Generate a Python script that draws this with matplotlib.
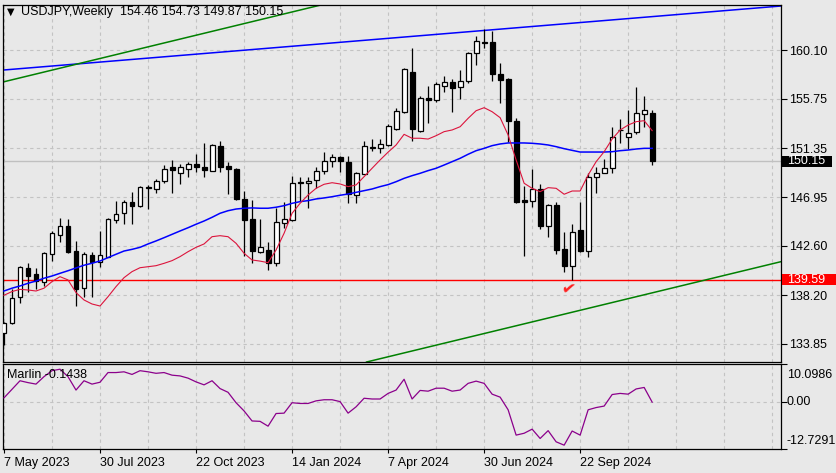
import numpy as np
import matplotlib
matplotlib.use("Agg")
import matplotlib.pyplot as plt
import matplotlib.transforms as mtransforms
from matplotlib.patches import Rectangle

plt.rcParams["font.family"] = ["Liberation Sans", "DejaVu Sans"]

SYMBOL = "USDJPY"
PERIOD = "Weekly"

# weekly candles, 7 May 2023 .. 24 Nov 2024
open_ = [134.86, 135.70, 138.02, 140.64, 140.07, 139.36, 141.86, 143.56, 144.40, 142.15,
         138.82, 141.80, 141.17, 141.65, 144.92, 145.52, 146.50, 146.17, 147.87, 147.72,
         148.38, 149.65, 149.10, 149.45, 149.92, 149.65, 149.33, 151.53, 149.74, 149.47,
         146.82, 145.01, 142.06, 142.24, 141.05, 144.63, 144.89, 148.32, 148.20, 148.50,
         149.33, 150.22, 150.55, 150.10, 147.13, 149.06, 151.35, 151.33, 151.62, 153.07,
         154.60, 158.11, 152.90, 155.79, 155.64, 156.91, 157.21, 156.77, 157.36, 159.81,
         160.81, 160.79, 157.93, 157.51, 153.76, 146.68, 146.65, 147.69, 144.38, 146.23,
         142.33, 140.84, 144.00, 142.18, 148.73, 149.09, 149.54, 152.93, 152.30, 152.75,
         154.39, 154.46]
high = [135.80, 138.80, 140.80, 141.05, 140.60, 142.10, 143.97, 145.10, 145.00, 143.05,
        142.10, 142.10, 143.94, 145.07, 146.62, 146.70, 147.45, 147.96, 148.05, 148.58,
        149.80, 150.28, 149.92, 150.13, 150.81, 151.77, 151.69, 151.98, 150.13, 149.54,
        147.54, 146.71, 145.01, 142.99, 146.02, 146.50, 148.88, 148.79, 148.73, 149.68,
        151.00, 150.84, 150.67, 150.61, 149.24, 151.98, 152.13, 152.13, 153.49, 154.90,
        158.47, 160.25, 155.97, 156.89, 157.27, 157.78, 157.48, 158.31, 159.90, 161.38,
        161.96, 161.82, 158.97, 157.63, 154.00, 147.96, 149.47, 148.14, 146.32, 146.50,
        143.82, 144.56, 146.50, 149.09, 149.63, 150.37, 153.25, 153.94, 154.74, 156.77,
        155.99, 154.73]
low = [133.74, 135.60, 137.50, 138.50, 138.80, 139.06, 141.29, 142.96, 142.00, 137.27,
       138.07, 138.07, 140.70, 141.60, 144.68, 144.56, 144.56, 146.06, 145.90, 147.36,
       148.25, 147.36, 148.14, 148.73, 149.24, 148.73, 149.27, 149.20, 147.22, 146.71,
       141.73, 141.06, 141.96, 140.46, 140.81, 144.24, 144.83, 146.65, 145.97, 147.75,
       149.00, 149.68, 149.24, 146.47, 146.47, 149.00, 151.05, 150.88, 151.53, 152.96,
       154.51, 151.98, 152.81, 153.61, 155.49, 156.38, 154.59, 155.72, 157.13, 158.76,
       160.30, 157.36, 155.39, 151.92, 146.47, 141.71, 146.11, 144.09, 143.43, 141.86,
       140.31, 139.59, 142.09, 141.64, 147.36, 149.09, 149.09, 151.82, 151.23, 152.60,
       153.25, 149.87]
close = [135.75, 137.93, 140.72, 139.95, 139.47, 141.95, 143.73, 144.36, 142.10, 138.79,
         141.86, 141.20, 141.77, 144.98, 145.43, 146.50, 146.20, 147.87, 147.75, 148.38,
         149.45, 149.36, 149.64, 149.90, 149.68, 149.39, 151.62, 149.63, 149.47, 146.77,
         144.95, 142.18, 142.48, 141.11, 144.72, 144.98, 148.20, 148.20, 148.38, 149.30,
         150.22, 150.55, 150.16, 147.22, 149.09, 151.50, 151.42, 151.68, 153.31, 154.66,
         158.38, 153.02, 155.79, 155.64, 157.07, 157.27, 156.73, 157.36, 159.80, 160.88,
         160.75, 157.93, 157.42, 153.79, 146.56, 146.56, 147.66, 144.41, 146.23, 142.24,
         140.84, 143.88, 142.12, 148.73, 149.15, 149.54, 152.30, 153.00, 152.66, 154.45,
         154.74, 150.15]

# fast (red) and slow (blue) moving averages as drawn on the chart
ma_fast = [138.20, 138.53, 138.73, 138.67, 138.58, 138.83, 139.42, 139.86, 139.57, 138.44,
           137.78, 137.42, 137.24, 138.07, 138.97, 139.77, 140.31, 140.66, 140.75, 140.84,
           141.05, 141.29, 141.65, 142.09, 142.48, 142.78, 143.43, 143.52, 143.43, 142.84,
           141.95, 141.35, 141.25, 141.11, 142.24, 143.73, 145.52, 146.41, 147.15, 147.75,
           148.11, 148.25, 148.14, 147.90, 148.05, 148.79, 149.54, 150.28, 150.98, 151.62,
           152.57, 152.22, 152.22, 152.15, 152.45, 152.81, 152.96, 153.25, 154.00, 154.68,
           154.95, 154.59, 154.06, 152.51, 150.28, 148.20, 147.75, 147.45, 147.81, 147.75,
           147.22, 147.51, 147.51, 148.94, 150.13, 151.02, 152.15, 152.96, 153.40, 153.70,
           153.79, 152.90]
ma_slow = [138.58, 138.83, 139.03, 139.27, 139.47, 139.72, 139.92, 140.16, 140.39, 140.64,
           140.88, 141.06, 141.26, 141.56, 141.86, 142.15, 142.30, 142.48, 142.78, 143.05,
           143.34, 143.64, 143.94, 144.23, 144.54, 144.83, 145.16, 145.52, 145.75, 145.90,
           145.97, 146.00, 145.97, 145.97, 146.06, 146.20, 146.41, 146.56, 146.65, 146.80,
           146.89, 147.00, 147.13, 147.24, 147.39, 147.54, 147.69, 147.90, 148.08, 148.34,
           148.64, 148.88, 149.09, 149.33, 149.54, 149.83, 150.13, 150.43, 150.79, 151.11,
           151.32, 151.56, 151.71, 151.80, 151.80, 151.80, 151.77, 151.71, 151.62, 151.47,
           151.29, 151.14, 150.99, 150.99, 150.99, 150.99, 151.02, 151.11, 151.17, 151.26,
           151.32, 151.32]

# Marlin oscillator
marlin = [1.0, 3.3, 5.6, 5.1, 4.7, 6.7, 8.3, 8.7, 6.7, 3.1,
          5.6, 4.7, 5.2, 7.8, 7.8, 8.0, 7.3, 8.3, 8.0, 7.6,
          7.8, 7.1, 6.9, 6.3, 5.3, 4.5, 5.6, 3.5, 2.5, -0.3,
          -2.5, -5.2, -5.3, -6.6, -3.2, -3.1, -0.3, -0.5, -0.5, 0.2,
          0.5, 0.5, 0.0, -3.1, -1.4, 0.9, 0.7, 0.7, 2.2, 3.1,
          6.0, 0.7, 3.0, 2.8, 3.6, 3.6, 2.8, 3.1, 4.9, 5.5,
          4.9, 2.0, 1.2, -2.2, -9.0, -8.5, -7.4, -9.9, -7.8, -10.8,
          -11.7, -7.9, -9.0, -2.2, -1.6, -1.2, 1.9, 2.2, 2.0, 3.4,
          3.8, -0.1438]
marlin_range = (-12.7291, 10.0986)

# price axis scale labels and date labels
price_ticks = [133.85, 138.20, 142.60, 146.95, 151.35, 155.75, 160.10]
date_pos = [0, 12, 24, 36, 48, 60, 72]
date_labels = ["7 May 2023", "30 Jul 2023", "22 Oct 2023", "14 Jan 2024",
               "7 Apr 2024", "30 Jun 2024", "22 Sep 2024"]

# drawn objects: trend lines as (bar index, price) anchors, level, check mark
blue_trend = [(-0.125, 158.31), (97.1, 164.03)]
green_upper = [(-0.5, 157.18), (39.6, 164.12)]
green_lower = [(44.5, 132.10), (97.1, 141.20)]
support_level = 139.59
check_mark = (70.4, 138.67)

BG = "#e8e8e8"
GRID = "#c3c3c3"
x = np.arange(len(close))
o = np.array(open_)
c = np.array(close)

fig = plt.figure(figsize=(8.37, 4.73), dpi=100, facecolor=BG)
ax = fig.add_axes([2.7 / 837, 1 - 362 / 473, 778.3 / 837, 357 / 473], facecolor=BG)
axm = fig.add_axes([2.7 / 837, 1 - 449 / 473, 778.3 / 837, 85 / 473], facecolor=BG)

xlim = (-0.16, 97.1)
for a in (ax, axm):
    a.set_xlim(*xlim)
    for s in a.spines.values():
        s.set_color("black")
        s.set_linewidth(0.9)
    for k in range(0, 97, 6):
        a.axvline(k, color=GRID, lw=0.8, ls=(0, (3, 3)), zorder=0)

ax.set_ylim(132.24, 164.12)
for p in price_ticks:
    ax.axhline(p, color=GRID, lw=0.8, ls=(0, (3, 3)), zorder=0)

# current price line and level
ax.axhline(close[-1], color="#c0c0c0", lw=1.0, zorder=1)
ax.axhline(support_level, color="#ff0000", lw=1.0, zorder=2)

# trend lines
for pts, col in ((blue_trend, "#0000ff"), (green_upper, "#008000"), (green_lower, "#008000")):
    (x0, y0), (x1, y1) = pts
    ax.axline((x0, y0), (x1, y1), color=col, lw=1.1, zorder=2)

# candles
ax.vlines(x, low, high, color="black", lw=0.9, zorder=3)
up = c >= o
ax.bar(x[up], np.maximum(c[up] - o[up], 0.02), bottom=o[up], width=0.62,
       color="white", edgecolor="black", linewidth=0.9, zorder=4)
ax.bar(x[~up], np.maximum(o[~up] - c[~up], 0.02), bottom=c[~up], width=0.62,
       color="black", edgecolor="black", linewidth=0.9, zorder=4)

# moving averages
ax.plot(x, ma_slow, color="#0000ff", lw=1.1, zorder=5)
ax.plot(x, ma_fast, color="#dc143c", lw=0.8, zorder=5)

ax.text(*check_mark, "\u2714", color="#ff2020", fontsize=12, ha="center", va="center",
        rotation=-10, zorder=6)

ax.set_xticks([])
ax.yaxis.tick_right()
ax.set_yticks(price_ticks)
ax.set_yticklabels([f"{p:.2f}" for p in price_ticks])
ax.tick_params(axis="y", direction="out", length=4, width=0.8, pad=2, labelsize=9)

# price tags on the scale
trans = mtransforms.blended_transform_factory(ax.transAxes, ax.transData)
px = 1 / 778.3
for val, fc, w in ((close[-1], "black", 50), (support_level, "#ff0000", 56)):
    ax.add_patch(Rectangle((1 + 1.5 * px, val - 0.5), w * px, 1.0, transform=trans,
                           facecolor=fc, edgecolor="none", clip_on=False, zorder=10))
    ax.text(1 + 6 * px, val, f"{val:.2f}", transform=trans, color="white", fontsize=9,
            ha="left", va="center", clip_on=False, zorder=11)

# title line
fig.text(7 / 837, 1 - 12 / 473, "\u25bc", fontsize=7, va="center", ha="left",
         family="DejaVu Sans")
fig.text(21 / 837, 1 - 12 / 473,
         f"{SYMBOL},{PERIOD}  {open_[-1]:.2f} {high[-1]:.2f} {low[-1]:.2f} {close[-1]:.2f}",
         fontsize=9, va="center", ha="left")

# indicator panel
axm.set_ylim(*marlin_range)
axm.axhline(0, color=GRID, lw=0.8, ls=(0, (3, 3)), zorder=0)
axm.plot(x, marlin, color="#8b008b", lw=0.9, zorder=3)
axm.yaxis.tick_right()
axm.set_yticks([marlin_range[1], 0, marlin_range[0]])
axm.set_yticklabels([])
axm.tick_params(axis="y", direction="out", length=4, width=0.8)
mtrans = mtransforms.blended_transform_factory(axm.transAxes, axm.transData)
for val, txt, dy in ((marlin_range[1], f"{marlin_range[1]:.4f}", -11),
                     (0, "0.00", 0),
                     (marlin_range[0], f"{marlin_range[0]:.4f}", 8)):
    axm.annotate(txt, xy=(1, val), xycoords=mtrans, xytext=(6, dy),
                 textcoords="offset pixels", fontsize=9, ha="left", va="center",
                 annotation_clip=False)
fig.text(7 / 837, 1 - 375 / 473, f"Marlin {marlin[-1]:.4f}", fontsize=9,
         va="center", ha="left")

axm.set_xticks(date_pos)
axm.set_xticklabels(date_labels, ha="left")
axm.tick_params(axis="x", direction="out", length=3, width=0.8, pad=3, labelsize=9)

fig.savefig("out.png", dpi=100, facecolor=BG)
